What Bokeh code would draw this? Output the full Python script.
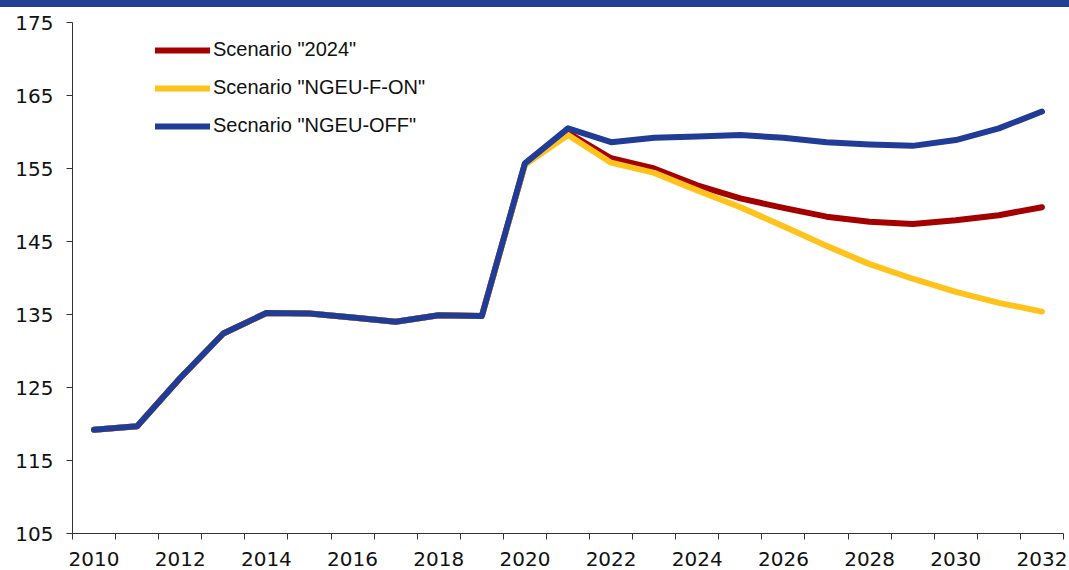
from bokeh.plotting import figure
from bokeh.models import Range1d, FixedTicker, Legend, LegendItem, Div
from bokeh.layouts import column
from bokeh.embed import file_html
from bokeh.resources import INLINE

years = list(range(2010, 2033))
scenario_2024 = [119.2, 119.7, 126.3, 132.4, 135.2, 135.15, 134.6, 134.0, 134.9, 134.8,
                 155.6, 159.9, 156.4, 155.0, 152.7, 150.9, 149.6, 148.4, 147.7, 147.4,
                 147.9, 148.6, 149.7]
scenario_ngeu_f_on = [119.2, 119.7, 126.3, 132.4, 135.2, 135.15, 134.6, 134.0, 134.9, 134.8,
                      155.5, 159.6, 155.8, 154.4, 152.0, 149.7, 147.1, 144.4, 141.9, 139.9,
                      138.1, 136.6, 135.4]
scenario_ngeu_off = [119.2, 119.7, 126.3, 132.4, 135.2, 135.15, 134.6, 134.0, 134.9, 134.8,
                     155.7, 160.5, 158.6, 159.2, 159.4, 159.6, 159.2, 158.6, 158.3, 158.1,
                     158.9, 160.5, 162.8]
labels = ['Scenario "2024"', 'Scenario "NGEU-F-ON"', 'Secnario "NGEU-OFF"']
y_ticks = [105, 115, 125, 135, 145, 155, 165, 175]
x_label_years = list(range(2010, 2033, 2))
x_bounds = [y - 0.5 for y in range(2010, 2034)]

RED = "#A50000"
YELLOW = "#FFC31C"
BLUE = "#213C96"
BAND = "#233F94"

band = Div(text="", width=1069, height=7, margin=0,
           styles={"background-color": BAND})

p = figure(width=1069, height=563, output_backend="svg", toolbar_location=None,
           x_range=Range1d(2009.5, 2032.5), y_range=Range1d(105, 175),
           min_border_left=72, min_border_right=6, min_border_top=15, min_border_bottom=37,
           margin=0)
p.outline_line_color = None
p.grid.visible = False
p.background_fill_color = "white"
p.border_fill_color = "white"

r1 = p.line(years, scenario_2024, line_color=RED, line_width=6, line_cap="round", line_join="round")
r2 = p.line(years, scenario_ngeu_f_on, line_color=YELLOW, line_width=6, line_cap="round", line_join="round")
r3 = p.line(years, scenario_ngeu_off, line_color=BLUE, line_width=6, line_cap="round", line_join="round")

legend = Legend(items=[LegendItem(label=labels[0], renderers=[r1]),
                       LegendItem(label=labels[1], renderers=[r2]),
                       LegendItem(label=labels[2], renderers=[r3])],
                location=(83, 396), orientation="vertical",
                glyph_width=55, glyph_height=20, label_height=20, label_standoff=3,
                spacing=15, padding=0, margin=0,
                label_text_font="Liberation Sans", label_text_font_size="20px",
                label_text_color="#111111",
                border_line_color=None, background_fill_alpha=0)
p.add_layout(legend)

xa = p.xaxis[0]
xa.ticker = FixedTicker(ticks=x_label_years, minor_ticks=x_bounds)
xa.major_tick_out = 0
xa.major_tick_in = 0
xa.minor_tick_out = 6
xa.minor_tick_in = 0
xa.minor_tick_line_color = "#333333"
xa.axis_line_color = "#333333"
xa.major_label_standoff = 12
xa.major_label_text_font = "DejaVu Sans"
xa.major_label_text_font_size = "20px"
xa.major_label_text_color = "#111111"

ya = p.yaxis[0]
ya.ticker = FixedTicker(ticks=y_ticks, minor_ticks=[])
ya.major_tick_out = 6
ya.major_tick_in = 0
ya.major_tick_line_color = "#333333"
ya.axis_line_color = "#333333"
ya.major_label_standoff = 13
ya.major_label_text_font = "DejaVu Sans"
ya.major_label_text_font_size = "20px"
ya.major_label_text_color = "#111111"

layout = column(band, p, spacing=0, margin=0)
open("out.html", "w").write(file_html(layout, INLINE))
